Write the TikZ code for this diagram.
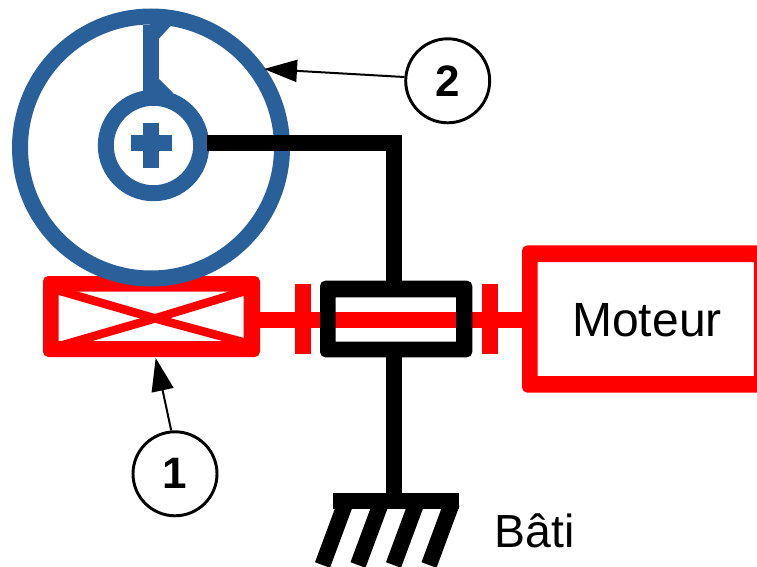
\documentclass[tikz,border=0pt]{standalone}
\usepackage{fontspec}
\setmainfont{Liberation Sans}
\usetikzlibrary{arrows.meta}
\definecolor{wheelblue}{HTML}{2A6099}
\tikzset{
  px/.style={x=0.75pt,y=-0.75pt},
  thick16/.style={line width=12pt,line join=miter},
  redline/.style={thick16,draw=red},
  blackline/.style={thick16,draw=black},
  blueline/.style={thick16,draw=wheelblue},
  frame/.style={even odd rule,rounded corners=4pt},
  callout/.style={circle,draw=black,line width=2.2pt,fill=white,minimum size=63pt,inner sep=0pt,font=\fontsize{33pt}{35pt}\selectfont\bfseries},
  pointer/.style={line width=1.5pt,-{Triangle[length=24.75pt,width=16.5pt]}},
  lab/.style={inner sep=0pt,font=\fontsize{36pt}{40pt}\selectfont}
}
\begin{document}
\begin{tikzpicture}[px]
\useasboundingbox (0,0) rectangle (757,567);
\clip (0,0) rectangle (757,567);
% red parts
\coordinate (shaftL) at (252,319.5);
\coordinate (shaftR) at (530,319.5);
\draw[redline] (shaftL) -- (shaftR);
\draw[redline] (303,284) -- (303,354);
\draw[redline] (489.5,284) -- (489.5,354);
\fill[red,frame] (43,276) rectangle (260,357) [sharp corners] (58.5,291.7) rectangle (243.5,341);
\coordinate (crossC) at (155,318.4);
\draw[red,line width=6.4pt,line cap=butt] (51,288.3) -- (crossC) -- (250,344);
\draw[red,line width=6.4pt,line cap=butt] (51,348.5) -- (crossC) -- (250,289.5);
\fill[red,frame] (522,245.3) rectangle (790,392.7) [sharp corners] (537.7,262) rectangle (754,376);
\node[lab] (mot) at (647,320) {Moteur};
% blue wheel
\draw[blueline] (151,147.5) circle (131);
\draw[blueline] (153.5,145.5) circle (47.7);
\draw[blueline] (151.3,25) -- (151.3,95);
\fill[wheelblue] (159.3,38.3) -- (171,25.5) -- (150,20) -- (150,45) -- cycle;
\fill[wheelblue] (159.3,79.3) -- (173,93) -- (150,100) -- cycle;
\draw[blueline] (131,143) -- (171.7,143);
\draw[blueline] (151.3,122.7) -- (151.3,167.7);
% black parts
\coordinate (armL) at (207,143);
\coordinate (armC) at (394,143);
\coordinate (groundT) at (394,500);
\draw[blackline] (armL) -- (armC) -- (394,289);
\draw[blackline] (394,350) -- (groundT);
\fill[black,frame] (320,280.7) rectangle (472.3,357.3) [sharp corners] (335.7,297.3) rectangle (456,341.7);
\draw[blackline] (333,500.5) -- (459,500.5);
\foreach \x in {345.5,381,416.5,452}{\draw[blackline] (\x,503) -- (\x-23,565);}
\node[lab,font=\fontsize{34.8pt}{40pt}\selectfont,anchor=west] (bati) at (494.5,531) {Bâti};
% callouts
\node[callout] (c2) at (447.7,80.8) {2};
\node[callout] (c1) at (175,473.8) {1};
\coordinate (p2) at (264,69);
\coordinate (p1) at (155.7,358);
\draw[pointer] (c2.175) -- (p2);
\draw[pointer] (c1.95) -- (p1);
\end{tikzpicture}
\end{document}
